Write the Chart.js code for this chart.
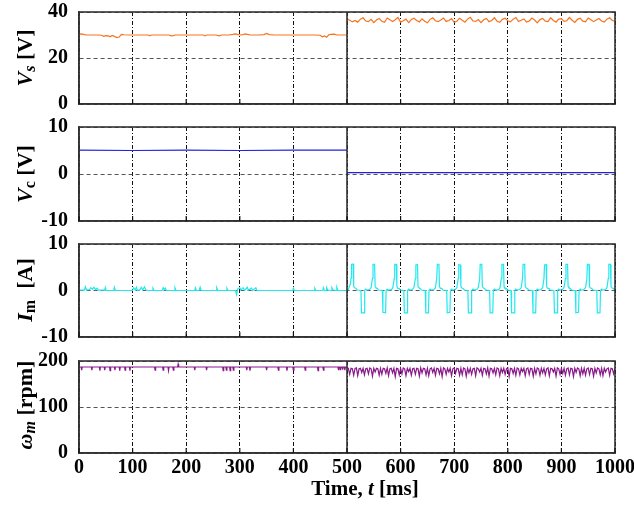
<!DOCTYPE html>
<html><head><meta charset="utf-8">
<script src="https://cdn.jsdelivr.net/npm/chart.js@4/dist/chart.umd.min.js"></script>
<style>
html,body{margin:0;padding:0;background:#fff;}
body{width:634px;height:505px;position:relative;overflow:hidden;font-family:"Liberation Serif","Times New Roman",serif;}
canvas.pane{position:absolute;left:0;}
.ylab{position:absolute;font-weight:bold;font-size:22px;white-space:nowrap;transform:translate(-50%,-50%) rotate(-90deg);color:#000;line-height:1;}
.ylab sub{font-size:16px;vertical-align:-3px;}
.xlab{position:absolute;font-weight:bold;font-size:21px;white-space:nowrap;transform:translate(-50%,-50%);color:#000;}
</style>
</head><body>
<canvas class="pane" id="c1"></canvas>
<canvas class="pane" id="c2"></canvas>
<canvas class="pane" id="c3"></canvas>
<canvas class="pane" id="c4"></canvas>
<div class="ylab" style="left:26px;top:58px"><i>V</i><sub><i>s</i></sub> [V]</div>
<div class="ylab" style="left:26px;top:174px"><i>V</i><sub>c</sub> [V]</div>
<div class="ylab" style="left:26px;top:290px"><i>I</i><sub>m</sub>&nbsp; [A]</div>
<div class="ylab" style="left:26px;top:405px"><i>ω</i><sub><i>m</i></sub> [rpm]</div>
<div class="xlab" style="left:365px;top:488px">Time, <i>t</i> [ms]</div>
<script>
// ---------- data ----------
const timeTicks = [0,100,200,300,400,500,600,700,800,900,1000];
const vsTickLabels = [0,20,40];
const vcTickLabels = [-10,0,10];
const imTickLabels = [-10,0,10];
const wTickLabels = [0,100,200];

// Vs [V], 0-500 ms : [t, value]
const vsBefore = [[0,30.4],[5,30.5],[10,30.2],[15,30.0],[25,30.0],[35,30.0],[42,29.9],[46,29.4],[50,29.7],[55,29.6],[58,29.2],[62,29.8],[67,29.3],[71,28.9],[75,29.1],[79,30.3],[84,30.1],[95,30.0],[110,30.0],[128,30.0],[132,29.7],[136,30.0],[150,30.0],[168,30.0],[172,29.6],[176,29.7],[180,30.0],[200,30.0],[220,30.0],[232,30.0],[235,29.6],[238,30.0],[255,30.0],[262,29.6],[266,30.0],[280,30.0],[287,30.3],[291,30.5],[295,30.3],[300,30.0],[306,30.2],[310,30.5],[314,30.3],[320,30.0],[335,30.0],[345,30.2],[350,30.7],[355,30.2],[365,30.0],[380,30.0],[400,30.0],[420,30.0],[440,30.0],[450,29.9],[454,29.2],[458,29.6],[462,29.0],[466,30.1],[470,30.3],[476,30.4],[481,30.0],[490,30.0],[500,30.0]];
// Vs [V], 500-1000 ms, one value every 5 ms
const vsAfterStart = 500, vsAfterStep = 5;
const vsAfter = [37.0,36.4,35.7,36.3,35.6,36.9,37.5,36.1,35.8,36.8,
35.4,36.5,37.2,36.0,35.5,37.4,36.6,35.9,36.6,37.6,
35.6,36.2,36.9,35.4,36.7,37.3,36.3,35.7,37.0,36.0,
35.3,36.8,37.5,36.2,35.8,36.5,37.4,35.9,36.3,37.1,
35.5,36.0,37.3,36.4,35.6,36.9,37.7,36.1,35.9,36.7,
35.4,36.6,37.2,35.8,36.3,37.5,36.0,35.5,36.8,37.3,
36.2,35.7,36.9,37.6,35.9,36.4,37.0,35.6,36.1,37.4,
36.5,35.3,36.7,37.2,36.0,35.8,37.5,36.3,35.6,36.9,
37.1,35.9,36.2,37.6,36.4,35.5,36.8,37.3,36.0,35.7,
37.4,36.6,35.8,36.5,37.2,36.1,35.6,36.9,37.5,36.3,
36.0];

// Vc [V]
const vcBefore = [[0,5.1],[100,5.0],[200,5.1],[300,5.0],[400,5.1],[500,5.1]];
const vcAfter = [[500,0.3],[1000,0.3]];

// Im [A]
const imBefore = [[0,0.1],[10,0.1],[12,0.8],[14,0.1],[20,0.2],[22,0.6],[25,0.3],[28,0.7],[31,0.2],[34,0.5],[36,0.1],[48,0.1],[49,0.6],[50,0],[65,0],[66,0.7],[68,0],[100,0],[102,0.6],[105,0.1],[107,0.7],[109,0],[114,0.2],[116,0.7],[119,0.1],[122,0.8],[125,0.1],[130,0],[137,0],[138,0.5],[140,0],[155,0],[157,0.6],[159,0.2],[161,0.5],[163,0],[178,0],[179,0.6],[181,0],[216,0],[217,0.6],[219,0],[224,0],[226,0.7],[228,0],[256,0],[257,0.6],[259,0],[275,0],[276,0.5],[278,0],[292,0],[294,-0.9],[296,0.3],[300,0.6],[302,0.1],[306,0.6],[309,0],[314,0.7],[316,0.1],[322,0.5],[324,0],[330,0.6],[332,0],[399,0],[400,0.5],[402,0],[439,0],[440,0.5],[442,0],[455,0],[456,0.6],[458,0],[461,0],[462,0.6],[464,0.1],[471,0],[472,0.6],[474,0.1],[480,0],[481,0.7],[483,0],[500,0]];
const imAfter = [[500,0],[502,0.2],[504,0.7],[506.5,1.5],[507.5,2.7],[508.5,5.6],[511.5,5.7],[512.5,0.9],[514,0.6],[516.5,0.5],[519,0.1],[526,0],[527,-4.8],[532,-4.8],[533,0],[535,0.3],[537,0.1],
[542,0.2],[545,0.6],[547.5,2.6],[548.5,5.6],[551.5,5.6],[552.5,0.8],[554,0.6],[557,0.4],[559,0.1],[566,0],[567,-4.7],[572,-4.8],[573,0],[575,0.3],[577,0.1],
[583,0.2],[585.5,0.6],[588,2.5],[589,5.6],[592,5.6],[593,0.9],[594.5,0.5],[597.5,0.4],[599.5,0.1],[606,0],[607,-4.8],[612,-4.8],[613,0],[615,0.3],[617,0.1],
[622,0.2],[625,0.7],[627.5,2.6],[628.5,5.5],[631.5,5.6],[632.5,0.8],[634,0.6],[637,0.4],[639,0.1],[646,0],[647,-4.8],[652,-4.8],[653,0],[655,0.3],[657,0.1],
[662,0.2],[665,0.6],[667.5,2.7],[668.5,5.6],[671.5,5.6],[672.5,0.9],[674,0.5],[677,0.4],[679,0.1],[686,0],[687,-4.8],[692,-4.7],[693,0],[695,0.3],[697,0.1],
[702,0.2],[705,0.6],[707.5,2.6],[708.5,5.6],[711.5,5.5],[712.5,0.8],[714,0.6],[717,0.4],[719,0.1],[725.5,0],[726.5,-4.8],[731.5,-4.8],[732.5,0],[735,0.3],[737,0.1],
[742,0.2],[745,0.7],[747.5,2.5],[748.5,5.6],[751.5,5.6],[752.5,0.9],[754,0.6],[757,0.4],[759,0.1],[766,0],[767,-4.8],[772,-4.8],[773,0],[775,0.3],[777,0.1],
[783,0.2],[785.5,0.6],[788,2.6],[789,5.6],[792,5.6],[793,0.8],[794.5,0.5],[797.5,0.4],[799.5,0.1],[806,0],[807,-4.8],[812,-4.8],[813,0],[815,0.3],[817,0.1],
[822,0.2],[825,0.6],[827.5,2.7],[828.5,5.6],[831.5,5.6],[832.5,0.9],[834,0.6],[837,0.4],[839,0.1],[846,0],[847,-4.8],[852,-4.8],[853,0],[855,0.3],[857,0.1],
[862,0.2],[865,0.6],[867.5,2.6],[868.5,5.5],[871.5,5.6],[872.5,0.8],[874,0.5],[877,0.4],[879,0.1],[886,0],[887,-4.8],[892,-4.8],[893,0],[895,0.3],[897,0.1],
[902,0.2],[905,0.7],[907.5,2.6],[908.5,5.6],[911.5,5.6],[912.5,0.9],[914,0.6],[917,0.4],[919,0.1],[926,0],[927,-4.8],[932,-4.7],[933,0],[935,0.3],[937,0.1],
[942,0.2],[945,0.6],[947.5,2.5],[948.5,5.6],[951.5,5.6],[952.5,0.8],[954,0.6],[957,0.4],[959,0.1],[966,0],[967,-4.8],[972,-4.8],[973,0],[975,0.3],[977,0.1],
[982,0.2],[985,0.6],[987.5,2.6],[988.5,5.6],[991.5,5.6],[992.5,0.9],[994,0.6],[997,0.4],[1000,0.2]];

// omega_m [rpm]
const wBefore = [[0,187],[4,187],[5,180],[6,187],[23,187],[24,180],[25,187],[38,187],[39,179],[40,187],[47,187],[48,180],[49,187],[57,187],[58,179],[59,187],[66,187],[67,180],[68,187],[75,187],[76,179],[77,187],[85,187],[86,180],[87,187],[94,187],[95,179],[96,187],[141,187],[142,180],[143,187],[156,187],[157,180],[158,187],[166,187],[167,179],[168,187],[175,187],[176,180],[177,187],[184,187],[185,193],[186,187],[215,187],[216,180],[217,187],[237,187],[238,180],[239,187],[268,187],[269,179],[270,187],[274,187],[275,180],[276,187],[281,187],[282,179],[283,187],[287,187],[288,180],[289,187],[312,187],[313,180],[314,187],[318,187],[319,179],[320,187],[349,187],[350,180],[351,187],[371,187],[372,180],[373,187],[387,187],[388,179],[389,187],[399,187],[400,180],[401,187],[421,187],[422,180],[423,187],[445,187],[446,179],[447,187],[455,187],[456,180],[457,187],[483,187],[484,181],[485,187],[487,187],[488,180],[489,187],[491,187],[492,181],[493,187],[495,187],[496,180],[497,187],[500,187]];
// omega_m [rpm], 500-1000 ms, one value every 2.5 ms
const wAfterStart = 500, wAfterStep = 2.5;
const wAfter = [186,184,171,184,183,169,184,185,168,183,
184,175,184,170,183,184,172,185,183,167,
184,176,184,183,169,184,171,184,183,173,
185,168,183,184,174,184,166,184,183,170,
184,172,185,183,168,184,177,184,169,183,
184,171,184,183,167,185,174,184,183,170,
184,168,183,185,175,184,169,184,183,172,
184,166,185,183,171,184,176,184,168,183,
185,173,184,183,169,184,170,185,183,167,
184,174,184,171,183,184,168,185,183,176,
184,169,184,183,172,185,167,184,183,174,
184,170,185,183,168,184,175,184,171,183,
185,166,184,183,173,184,169,185,183,170,
184,177,184,168,183,185,171,184,183,167,
184,172,185,183,169,184,174,184,170,183,
185,168,184,183,176,184,167,185,183,171,
184,173,184,169,183,185,170,184,183,166,
184,175,185,183,168,184,172,184,169,183,
185,171,184,183,167,184,174,185,183,170,
184,168,184,176,183,185,169,184,183,172,
184];

// ---------- helpers ----------
const pts = arr => arr.map(([x,y]) => ({x,y}));
const evenPts = (start, step, vals) => vals.map((y,i) => ({x: start + i*step, y}));

const FONT = {family:'"Liberation Serif","Times New Roman",serif', size:20, weight:'bold'};

const framePlugin = {
  id:'frame',
  afterDatasetsDraw(chart){
    const {ctx, chartArea:a, scales:{x}} = chart;
    ctx.save();
    ctx.strokeStyle = '#333';
    ctx.lineWidth = 1.6;
    ctx.strokeRect(a.left, a.top, a.right - a.left, a.bottom - a.top);
    const xm = x.getPixelForValue(500);
    ctx.beginPath(); ctx.moveTo(xm, a.top); ctx.lineTo(xm, a.bottom); ctx.stroke();
    ctx.lineWidth = 1.2; ctx.strokeStyle = '#111';
    timeTicks.forEach(t => {
      const px = x.getPixelForValue(t);
      ctx.beginPath(); ctx.moveTo(px, a.bottom); ctx.lineTo(px, a.bottom - 5); ctx.stroke();
    });
    ctx.restore();
  }
};

function makeChart(id, top, height, pad, datasets, yMin, yMax, yStep, yLabels, showX){
  const cv = document.getElementById(id);
  cv.style.top = top + 'px';
  cv.width = 634; cv.height = height;
  cv.style.width = '634px'; cv.style.height = height + 'px';
  return new Chart(cv, {
    type:'line',
    data:{datasets},
    options:{
      responsive:false, animation:false, devicePixelRatio:1,
      events:[],
      layout:{autoPadding:false, padding:{left:0, right:19, top:pad.top, bottom:pad.bottom}},
      plugins:{legend:{display:false}, tooltip:{enabled:false}},
      elements:{point:{radius:0}, line:{tension:0, borderWidth:1.2}},
      scales:{
        x:{type:'linear', min:0, max:1000,
           ticks:{display:showX, stepSize:100, color:'#000', font:FONT, padding:3, maxRotation:0, autoSkip:false,
                  callback:v => String(v)},
           grid:{color:'#111', lineWidth:1, drawTicks:false},
           border:{display:true, color:'#333', width:1.6, dash:[4,2,1,2]},
           afterFit(s){ s.height = showX ? 27 : 0; s.paddingLeft = 0; s.paddingRight = 0; s.paddingTop = 0; s.paddingBottom = 0; }},
        y:{type:'linear', min:yMin, max:yMax,
           ticks:{stepSize:yStep, color:'#000', font:FONT, padding:11,
                  callback:v => yLabels.includes(v) ? String(v) : ''},
           grid:{color:'#555', lineWidth:1, drawTicks:false},
           border:{display:true, color:'#333', width:1.6, dash:[4,3]},
           afterFit(s){ s.width = 79; s.paddingTop = 0; s.paddingBottom = 0; s.paddingLeft = 0; s.paddingRight = 0; }}
      }
    },
    plugins:[framePlugin]
  });
}

const ds = (data, color) => ({data, borderColor:color, backgroundColor:color, fill:false});

makeChart('c1', 0, 116, {top:12,bottom:12},
  [ds(pts(vsBefore),'#f7741c'), ds(evenPts(vsAfterStart, vsAfterStep, vsAfter),'#f7741c')],
  0, 40, 10, vsTickLabels, false);
makeChart('c2', 115, 118, {top:12,bottom:12},
  [ds(pts(vcBefore),'#2222dd'), ds(pts(vcAfter),'#2222dd')],
  -10, 10, 5, vcTickLabels, false);
makeChart('c3', 232, 117, {top:12,bottom:12},
  [ds(pts(imBefore),'#22e8ee'), ds(pts(imAfter),'#22e8ee')],
  -10, 10, 5, imTickLabels, false);
makeChart('c4', 349, 131, {top:12,bottom:0},
  [ds(pts(wBefore),'#8a1a8a'), ds(evenPts(wAfterStart, wAfterStep, wAfter),'#8a1a8a')],
  0, 200, 50, wTickLabels, true);
</script>
</body></html>
